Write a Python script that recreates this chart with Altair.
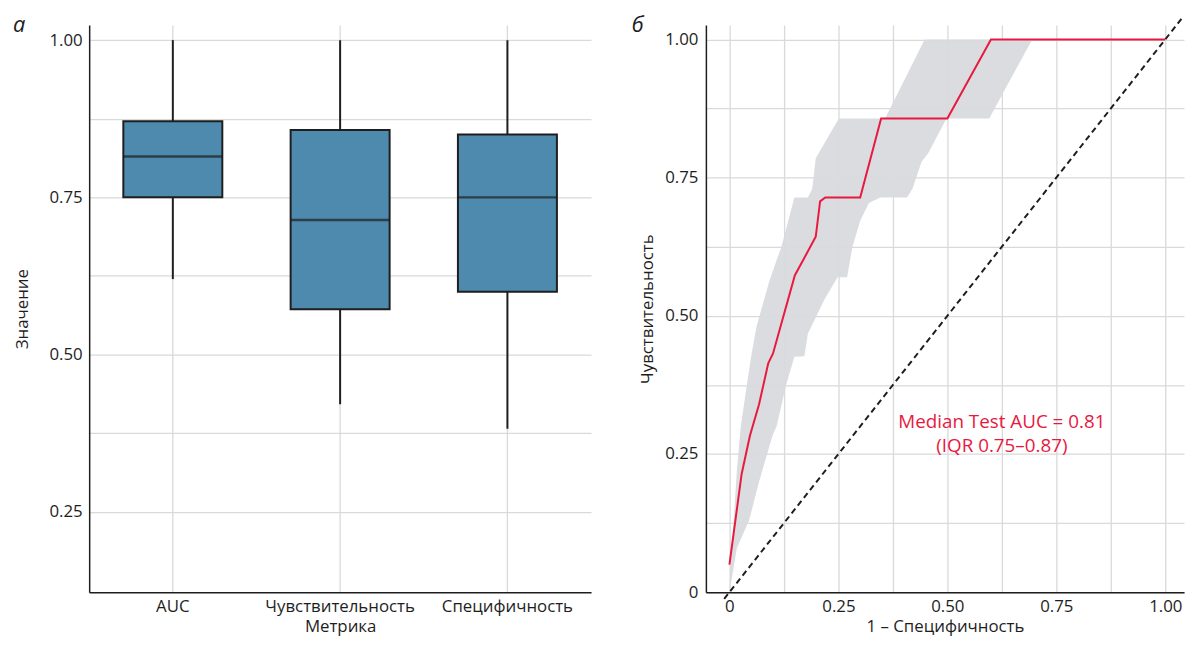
import altair as alt
import pandas as pd

# ---------- panel a: box plot summaries ----------
metrics = ["AUC", "Чувствительность", "Специфичность"]
whisker_low = [0.62, 0.421, 0.382]
q1 = [0.75, 0.572, 0.60]
median = [0.815, 0.714, 0.75]
q3 = [0.871, 0.857, 0.85]
whisker_high = [1.0, 1.0, 1.0]

# ---------- panel b: median ROC curve ----------
roc_fpr = [0, 0.028, 0.047, 0.068, 0.089, 0.10, 0.15, 0.198, 0.208, 0.22, 0.30, 0.348, 0.50, 0.60, 1.0]
roc_tpr = [0.05, 0.214, 0.283, 0.34, 0.414, 0.432, 0.573, 0.643, 0.707, 0.714, 0.714, 0.857, 0.857, 1.0, 1.0]

# IQR band
band_fpr = [0, 0.002, 0.009, 0.017, 0.026, 0.039, 0.045, 0.051, 0.062, 0.068, 0.092, 0.10, 0.108,
            0.119, 0.13, 0.149, 0.172, 0.18, 0.19, 0.198, 0.217, 0.248, 0.251, 0.27, 0.282, 0.30,
            0.32, 0.346, 0.357, 0.4075, 0.42, 0.441, 0.448, 0.456, 0.498, 0.596, 0.69, 0.695]
band_upper = [0, 0.05, 0.12, 0.22, 0.30, 0.37, 0.401, 0.432, 0.48, 0.497, 0.564, 0.582, 0.60,
              0.624, 0.657, 0.714, 0.714, 0.714, 0.73, 0.785, 0.811, 0.853, 0.857, 0.857, 0.857, 0.857,
              0.857, 0.857, 0.857, 0.936, 0.956, 0.989, 1.0, 1.0, 1.0, 1.0, 1.0, 1.0]
band_lower = [0, 0.009, 0.042, 0.08, 0.096, 0.119, 0.13, 0.148, 0.182, 0.20, 0.265, 0.286, 0.30,
              0.3375, 0.375, 0.426, 0.427, 0.468, 0.484, 0.497, 0.528, 0.57, 0.57, 0.57, 0.624, 0.672,
              0.704, 0.714, 0.714, 0.714, 0.73, 0.779, 0.786, 0.794, 0.857, 0.857, 0.993, 1.0]

diag_vals = [-0.012, 1.04]

annot_text = ["Median Test AUC = 0.81\n(IQR 0.75–0.87)"]
annot_x = [0.625]
annot_y = [0.307]

FONT = "Open Sans"
GRID = "#d9d9d9"
DARK = "#1e1e1e"
BOX = "#4e8aae"
RED = "#e8193f"
BANDC = "#d9dadd"

# ---------------- left chart ----------------
box_df = pd.DataFrame({"metric": metrics, "lo": whisker_low, "q1": q1,
                       "med": median, "q3": q3, "hi": whisker_high})

x_left = alt.X("metric:N", sort=metrics, title="Метрика",
               scale=alt.Scale(paddingInner=0, paddingOuter=0),
               axis=alt.Axis(labelAngle=0, grid=True, ticks=False, bandPosition=0.5,
                             labelPadding=6, titlePadding=5))
y_left_scale = alt.Scale(domain=[0.122, 1.024], nice=False, zero=False)
y_left_axis = alt.Axis(values=[0.25, 0.375, 0.5, 0.625, 0.75, 0.875, 1.0],
                       labelExpr="datum.value % 0.25 == 0 ? format(datum.value, '.2f') : ''",
                       ticks=False, labelPadding=7, titlePadding=18)

base_l = alt.Chart(box_df)
whisk = base_l.mark_rule(color=DARK, strokeWidth=2).encode(
    x=x_left,
    y=alt.Y("lo:Q", scale=y_left_scale, axis=y_left_axis, title="Значение"),
    y2="hi:Q")
boxes = base_l.mark_bar(size=100, color=BOX, stroke=DARK, strokeWidth=2).encode(
    x=x_left, y=alt.Y("q1:Q"), y2="q3:Q")
meds = base_l.mark_tick(size=100, thickness=2.4, color=DARK).encode(
    x=x_left, y=alt.Y("med:Q"))
letter_a = alt.Chart(pd.DataFrame({"t": ["а"]})).mark_text(
    font=FONT, fontSize=22, fontStyle="italic", align="left", baseline="alphabetic",
    color=DARK).encode(text="t:N", x=alt.value(-77), y=alt.value(7))

left = alt.layer(whisk, boxes, meds, letter_a).properties(width=alt.Step(169), height=573)

# ---------------- right chart ----------------
ticks_r = [0, 0.125, 0.25, 0.375, 0.5, 0.625, 0.75, 0.875, 1.0]
lab_expr = "datum.value == 0 ? '0' : (datum.value % 0.25 == 0 ? format(datum.value, '.2f') : '')"
x_right_scale = alt.Scale(domain=[-0.054, 1.043], nice=False, zero=False)
y_right_scale = alt.Scale(domain=[0, 1.026], nice=False, zero=False)
x_right_axis = alt.Axis(values=ticks_r, labelExpr=lab_expr, ticks=False,
                        labelPadding=6, titlePadding=5)
y_right_axis = alt.Axis(values=ticks_r, labelExpr=lab_expr, ticks=False,
                        labelPadding=8, titlePadding=8)

band_df = pd.DataFrame({"fpr": band_fpr, "lo": band_lower, "hi": band_upper})
roc_df = pd.DataFrame({"fpr": roc_fpr, "tpr": roc_tpr})
diag_df = pd.DataFrame({"fpr": diag_vals, "tpr": diag_vals})
annot_df = pd.DataFrame({"t": annot_text, "x": annot_x, "y": annot_y})

band = alt.Chart(band_df).mark_area(color=BANDC, opacity=0.95).encode(
    x=alt.X("fpr:Q", scale=x_right_scale, axis=x_right_axis, title="1 – Специфичность"),
    y=alt.Y("lo:Q", scale=y_right_scale, axis=y_right_axis, title="Чувствительность"),
    y2="hi:Q")
diag = alt.Chart(diag_df).mark_line(color=DARK, strokeWidth=2, strokeDash=[6, 4], clip=False).encode(
    x="fpr:Q", y="tpr:Q")
roc = alt.Chart(roc_df).mark_line(color=RED, strokeWidth=2).encode(
    x="fpr:Q", y="tpr:Q")
annot = alt.Chart(annot_df).mark_text(font=FONT, fontSize=19, color=RED, align="center",
                                      baseline="middle", lineBreak="\n", lineHeight=24).encode(
    x="x:Q", y="y:Q", text="t:N")
letter_b = alt.Chart(pd.DataFrame({"t": ["б"]})).mark_text(
    font=FONT, fontSize=22, fontStyle="italic", align="left", baseline="alphabetic",
    color=DARK).encode(text="t:N", x=alt.value(-75), y=alt.value(7))

right = alt.layer(band, diag, roc, annot, letter_b).properties(width=483, height=573)

chart = alt.hconcat(left, right, spacing=41).properties(
    padding={"left": 5, "top": 2, "right": 0, "bottom": 0}
).configure_view(stroke=None).configure_axis(
    labelFont=FONT, titleFont=FONT, labelFontSize=17, titleFontSize=17,
    titleFontWeight="normal", labelColor=DARK, titleColor=DARK,
    domainColor=DARK, domainWidth=1.5, gridColor=GRID, gridWidth=1.3
)

chart.save("out.html", embed_options={"renderer": "svg", "actions": False})
